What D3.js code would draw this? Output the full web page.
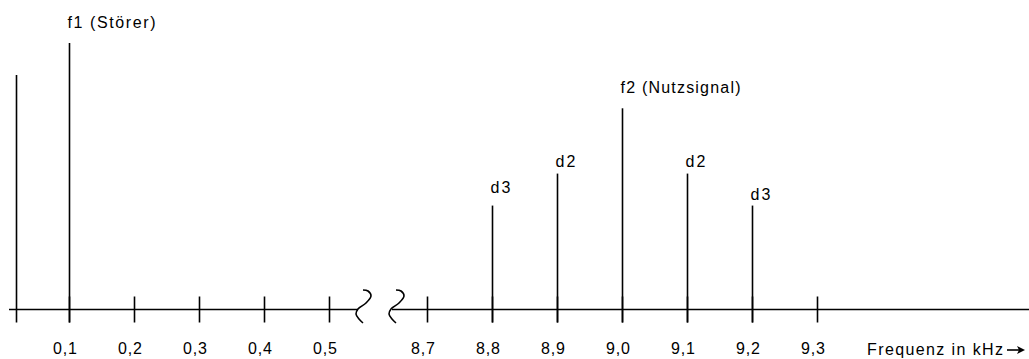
<!DOCTYPE html>
<html><head><meta charset="utf-8">
<script src="https://cdn.jsdelivr.net/npm/d3@7"></script>
<style>
html,body{margin:0;padding:0;background:#fff;}
svg{display:block;}
text{font-family:"Liberation Sans",Arial,sans-serif;font-size:16px;fill:#000;}
</style></head>
<body>
<svg id="chart" width="1029" height="359"></svg>
<script>
// ---- data ----
const leftTicks = [0.1, 0.2, 0.3, 0.4, 0.5];
const leftTickLabels = ["0,1", "0,2", "0,3", "0,4", "0,5"];
const rightTicks = [8.7, 8.8, 8.9, 9.0, 9.1, 9.2, 9.3];
const rightTickLabels = ["8,7", "8,8", "8,9", "9,0", "9,1", "9,2", "9,3"];
const lineFreqs = [0.018, 0.1, 8.8, 8.9, 9.0, 9.1, 9.2];
const lineAmps = [88, 100, 39, 51, 75.5, 51, 39];
const lineLabels = ["", "f1 (Störer)", "d3", "d2", "f2 (Nutzsignal)", "d2", "d3"];
const axisTitle = "Frequenz in kHz";

// ---- layout ----
const labelLift = [0, 15, 13, 7, 15, 7, 6];
const labelWidth = [0, 88, 20, 20, 120, 20, 20];
const baseY = 309.5;
const svg = d3.select("#chart");
const xLeft = d3.scaleLinear().domain([0.1, 0.5]).range([69, 328.5]);
const xRight = d3.scaleLinear().domain([8.7, 9.3]).range([426.7, 816.7]);
const x = v => Math.round(v < 5 ? xLeft(v) : xRight(v)) + 0.5;
const y = d3.scaleLinear().domain([0, 100]).range([baseY, 43]);

const g = svg.append("g").attr("stroke", "#000").attr("stroke-width", 1.6).attr("fill", "none");

// axis line segments with break
g.append("line").attr("x1", 9).attr("x2", 358).attr("y1", baseY).attr("y2", baseY);
g.append("line").attr("x1", 392).attr("x2", 1029).attr("y1", baseY).attr("y2", baseY);

// break squiggles
const sq = d3.line().curve(d3.curveCatmullRom);
const shape = [[-3,0],[2,1],[5,6],[0,13],[-8,19],[-10,24],[-7,29],[-3,33]];
[366, 399].forEach(x0 => {
  g.append("path").attr("d", sq(shape.map(p => [x0 + p[0], 290 + p[1]])));
});

// ticks
const allTicks = leftTicks.map((v, i) => ({v, lab: leftTickLabels[i]}))
  .concat(rightTicks.map((v, i) => ({v, lab: rightTickLabels[i]})));
allTicks.forEach(t => {
  g.append("line").attr("x1", x(t.v)).attr("x2", x(t.v)).attr("y1", baseY - 13).attr("y2", baseY + 13);
  svg.append("text").attr("x", x(t.v) - 16.5).attr("y", 354)
    .attr("textLength", 24).attr("lengthAdjust", "spacing").text(t.lab);
});

// spectral lines
lineFreqs.forEach((f, i) => {
  g.append("line").attr("x1", x(f)).attr("x2", x(f)).attr("y1", y(lineAmps[i])).attr("y2", baseY + 13);
  if (lineLabels[i]) {
    svg.append("text").attr("x", x(f) - 2).attr("y", y(lineAmps[i]) - labelLift[i])
      .attr("textLength", labelWidth[i]).attr("lengthAdjust", "spacing").text(lineLabels[i]);
  }
});

// axis title with arrow
svg.append("text").attr("x", 867).attr("y", 355)
  .attr("textLength", 136).attr("lengthAdjust", "spacing").text(axisTitle);
svg.append("line").attr("x1", 1007).attr("x2", 1019).attr("y1", 350).attr("y2", 350)
  .attr("stroke", "#000").attr("stroke-width", 1.6);
svg.append("path").attr("d", "M1025,350 L1017,346 L1019,350 L1017,354 Z").attr("fill", "#000");
</script>
</body></html>
